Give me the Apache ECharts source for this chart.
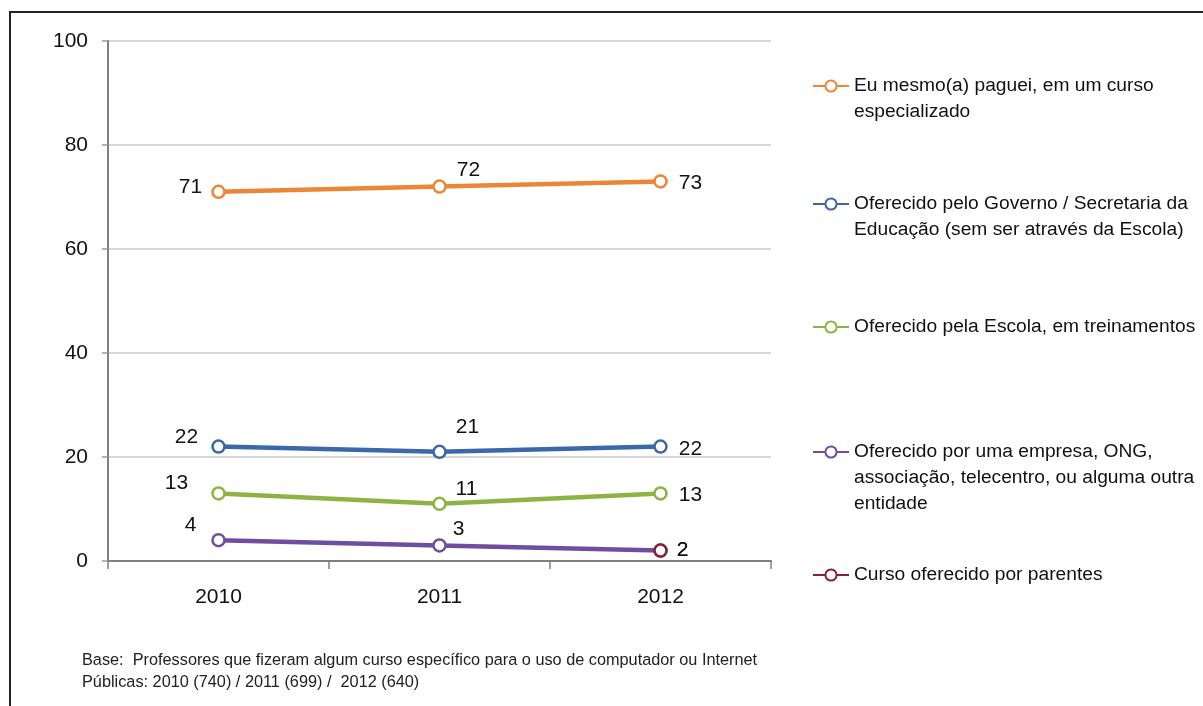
<!DOCTYPE html>
<html>
<head>
<meta charset="utf-8">
<script src="https://cdn.jsdelivr.net/npm/echarts@6/dist/echarts.min.js"></script>
<style>
  html, body { margin: 0; padding: 0; background: #fff; }
  #chart { width: 1203px; height: 706px; }
</style>
</head>
<body>
<div id="chart"></div>
<script>
// Categories and values (percentages)
const years = ['2010', '2011', '2012'];
const pagouCurso = [71, 72, 73];
const governo = [22, 21, 22];
const escola = [13, 11, 13];
const empresa = [4, 3, 2];
const parentes = [null, null, 2];

const seriesNames = [
  'Eu mesmo(a) paguei, em um curso\nespecializado',
  'Oferecido pelo Governo / Secretaria da\nEducação (sem ser através da Escola)',
  'Oferecido pela Escola, em treinamentos',
  'Oferecido por uma empresa, ONG,\nassociação, telecentro, ou alguma outra\nentidade',
  'Curso oferecido por parentes'
];
const yTicks = [0, 20, 40, 60, 80, 100];

const FONT = '"Liberation Sans", Arial, sans-serif';
const colors = ['#ED8536', '#3A68A8', '#8DB443', '#6E4E9E', '#8A1F3A'];

// label offsets (relative to the point) per series and per year
const labelOffsets = [
  [[-28, -5], [29, -16], [30, 2]],
  [[-32, -9], [28, -25], [30, 3]],
  [[-42, -10], [27, -15], [30, 2]],
  [[-28, -15], [19, -16], [22, 0]],
  [[0, 0], [0, 0], [22, 0]]
];

const allValues = [pagouCurso, governo, escola, empresa, parentes];

function buildData(values, sIdx) {
  return values.map((v, i) => ({
    value: v,
    label: { offset: labelOffsets[sIdx][i] }
  }));
}

const series = allValues.map((vals, s) => ({
  name: seriesNames[s],
  type: 'line',
  data: buildData(vals, s),
  symbol: 'circle',
  symbolSize: 12,
  showAllSymbol: true,
  lineStyle: { color: colors[s], width: 4.5 },
  itemStyle: { color: '#fff', borderColor: colors[s], borderWidth: 2.5 },
  label: {
    show: true,
    position: 'inside',
    color: '#111',
    fontFamily: FONT,
    fontSize: 21
  },
  emphasis: { disabled: true },
  animation: false
}));

// legend entries placed one by one at the right side; blank lines are
// prepended so the icon lines up with the first line of wrapped names
const legendTops = [86, 204, 327, 452, 575];
const legendLines = seriesNames.map(n => n.split('\n').length);
const LH = 26;
const legends = seriesNames.map((name, i) => {
  const k = legendLines[i];
  return {
    data: [name],
    left: 812,
    top: legendTops[i] - (2 * k - 1) * LH / 2,
    orient: 'vertical',
    padding: 0,
    itemWidth: 36,
    itemHeight: 14,
    itemGap: 0,
    selectedMode: false,
    formatter: n => '\n'.repeat(k - 1) + n,
    textStyle: {
      fontFamily: FONT,
      fontSize: 19.2,
      color: '#111',
      lineHeight: LH
    }
  };
});

const chart = echarts.init(document.getElementById('chart'));
chart.setOption({
  backgroundColor: '#fff',
  animation: false,
  grid: { left: 108, right: 432, top: 41, bottom: 145 },
  legend: legends,
  xAxis: {
    type: 'category',
    data: years,
    boundaryGap: true,
    axisLine: { lineStyle: { color: '#808080', width: 2 } },
    axisTick: { show: true, length: 8, lineStyle: { color: '#808080', width: 1.5 } },
    axisLabel: { color: '#111', fontFamily: FONT, fontSize: 21, margin: 26 }
  },
  yAxis: {
    type: 'value',
    min: yTicks[0],
    max: yTicks[yTicks.length - 1],
    interval: 20,
    axisLine: { show: true, lineStyle: { color: '#808080', width: 2 } },
    axisTick: { show: true, length: 6, lineStyle: { color: '#999', width: 1.5 } },
    splitLine: { lineStyle: { color: '#C8C8C8', width: 1.5 } },
    axisLabel: { color: '#111', fontFamily: FONT, fontSize: 21, margin: 20 }
  },
  series: series,
  graphic: [
    { type: 'line', shape: { x1: 9, y1: 12, x2: 1203, y2: 12 }, style: { stroke: '#222', lineWidth: 2 } },
    { type: 'line', shape: { x1: 10, y1: 12, x2: 10, y2: 706 }, style: { stroke: '#222', lineWidth: 2 } },
    {
      type: 'text',
      left: 82,
      top: 650,
      style: {
        text: 'Base:  Professores que fizeram algum curso específico para o uso de computador ou Internet\nPúblicas: 2010 (740) / 2011 (699) /  2012 (640)',
        font: '16.3px "Liberation Sans", Arial, sans-serif',
        fill: '#222',
        lineHeight: 22
      }
    }
  ]
});
</script>
</body>
</html>
